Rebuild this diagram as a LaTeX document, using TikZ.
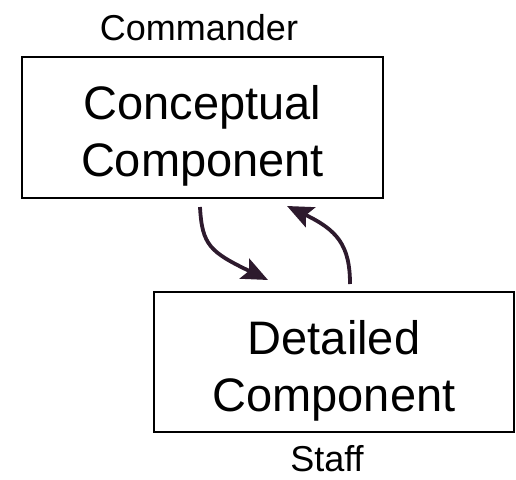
\documentclass[tikz,border=0pt]{standalone}
\usepackage{fontspec}
\setmainfont{Liberation Sans}
\usetikzlibrary{arrows.meta}
\definecolor{arrcol}{HTML}{2D1A2D}
\begin{document}
\begin{tikzpicture}[x=1pt,y=1pt,
  box/.style={draw=black,line width=1.8pt,inner sep=0pt},
  boxtext/.style={align=center,inner sep=0pt,font=\fontsize{47}{57}\selectfont},
  lbl/.style={inner sep=0pt,font=\fontsize{36}{40}\selectfont},
  arr/.style={draw=arrcol,line width=3.8pt,
    -{Stealth[length=26pt,width=22pt,inset=5pt]}}]
\useasboundingbox (0,0) rectangle (516,-479);
\node[box,minimum width=361pt,minimum height=141pt] (cc) at (202.5,-127.5) {};
\node[boxtext] (cct) at (202.5,-136) {Conceptual\\Component};
\node[box,minimum width=360pt,minimum height=140pt] (dc) at (334,-362) {};
\node[boxtext] (dct) at (334,-371) {Detailed\\Component};
\node[lbl,anchor=base] (cmd) at (199,-40) {Commander};
\node[lbl,anchor=base] (stf) at (327,-471) {Staff};
\coordinate (a1s) at (200,-207);
\coordinate (a1e) at (268,-280);
\coordinate (a2s) at (350,-284);
\coordinate (a2e) at (287,-206);
\draw[arr] (a1s) .. controls (202,-245) and (210,-252) .. (a1e);
\draw[arr] (a2s) .. controls (350,-245) and (337,-230) .. (a2e);
\end{tikzpicture}
\end{document}
